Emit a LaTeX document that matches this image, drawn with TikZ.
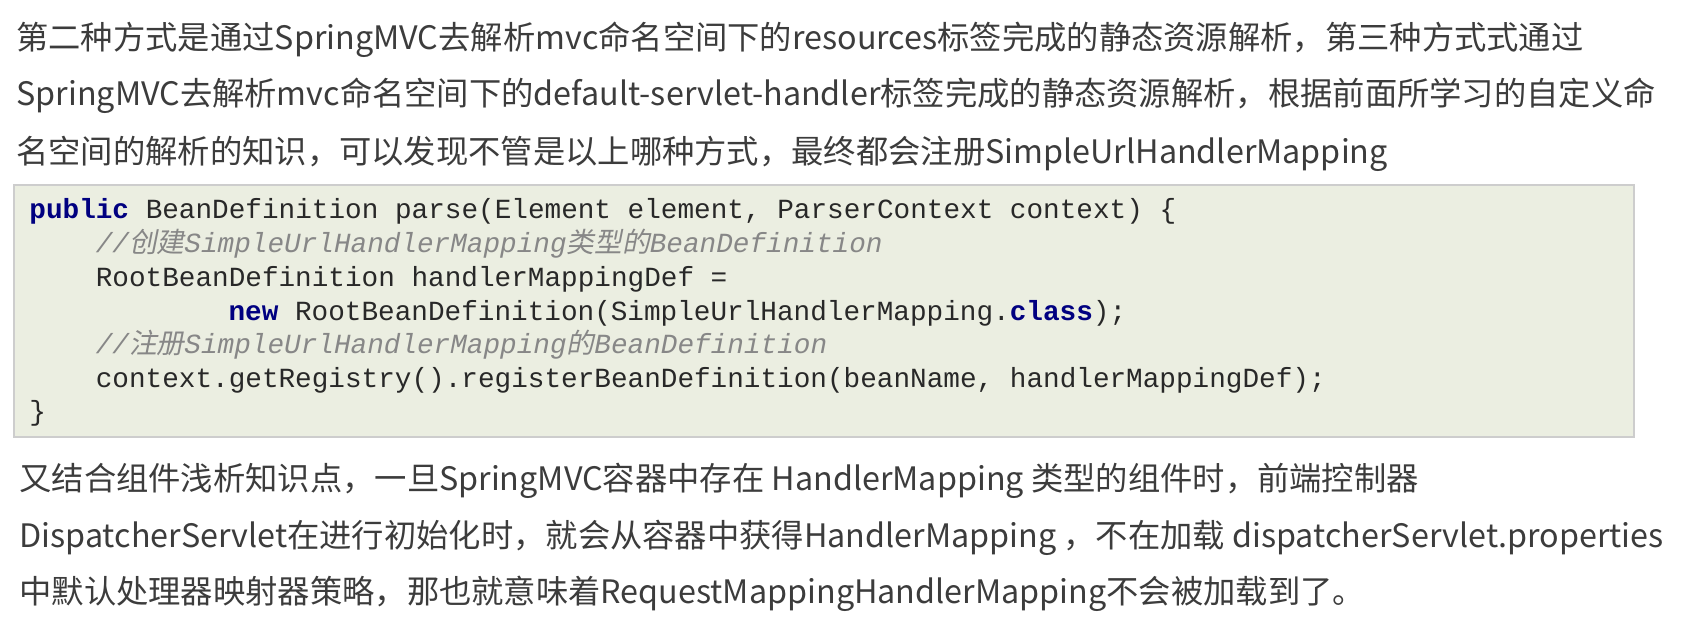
\documentclass[tikz,border=0pt]{standalone}
\usepackage{fontspec}
\setmainfont{Noto Sans CJK SC}
\setmonofont{Liberation Mono}
\newfontfamily\cjkslant[FakeSlant=0.2]{Noto Sans CJK SC}
\usetikzlibrary{positioning}

\definecolor{bodytext}{RGB}{60,60,60}
\definecolor{codebg}{RGB}{235,238,225}
\definecolor{codeframe}{RGB}{205,205,205}
\definecolor{keyword}{RGB}{0,0,128}
\definecolor{comment}{RGB}{135,135,135}
\definecolor{codetext}{RGB}{40,40,40}

\newcommand{\kw}[1]{\textcolor{keyword}{\bfseries #1}}
\newcommand{\cmt}[1]{\textcolor{comment}{\itshape #1}}
\newcommand{\zh}[1]{{\cjkslant #1}}

\tikzset{
  para/.style={anchor=base west, inner sep=0pt, text=bodytext,
    font=\fontsize{16.15}{16.15}\selectfont},
  codeline/.style={anchor=base west, inner sep=0pt, text=codetext,
    font=\ttfamily\fontsize{13.85}{13.85}\selectfont},
  codebox/.style={draw=codeframe, fill=codebg, line width=1pt,
    inner sep=0pt, minimum width=810pt, minimum height=126pt},
}

\begin{document}
\begin{tikzpicture}[x=0.5pt, y=-0.5pt]
    \useasboundingbox (0,0) rectangle (1682,631);

    % text above the listing
    \node[para] (t1) at (16,50) {第二种方式是通过SpringMVC去解析mvc命名空间下的resources标签完成的静态资源解析，第三种方式式通过};
    \node[para] (t2) at (16,106) {SpringMVC去解析mvc命名空间下的default-servlet-handler标签完成的静态资源解析，根据前面所学习的自定义命};
    \node[para] (t3) at (16,163) {名空间的解析的知识，可以发现不管是以上哪种方式，最终都会注册SimpleUrlHandlerMapping};

    % the listing
    \node[codebox] (box) at (824,311) {};
    \node[codeline] (c1) at (29,219) {\kw{public} BeanDefinition parse(Element element, ParserContext context) \{};
    \node[codeline] (c2) at (95.4,252.6) {\cmt{//\zh{创建}SimpleUrlHandlerMapping\zh{类型的}BeanDefinition}};
    \node[codeline] (c3) at (95.4,286) {RootBeanDefinition handlerMappingDef =};
    \node[codeline] (c4) at (228.2,320) {\kw{new} RootBeanDefinition(SimpleUrlHandlerMapping.\kw{class});};
    \node[codeline] (c5) at (95.4,353) {\cmt{//\zh{注册}SimpleUrlHandlerMapping\zh{的}BeanDefinition}};
    \node[codeline] (c6) at (95.4,387) {context.getRegistry().registerBeanDefinition(beanName, handlerMappingDef);};
    \node[codeline] (c7) at (29,420) {\}};

    % text below the listing
    \node[para] (t4) at (19,490) {又结合组件浅析知识点，一旦SpringMVC容器中存在 HandlerMapping 类型的组件时，前端控制器};
    \node[para] (t5) at (19,547) {DispatcherServlet在进行初始化时，就会从容器中获得HandlerMapping ，不在加载 dispatcherServlet.properties};
    \node[para] (t6) at (19,603) {中默认处理器映射器策略，那也就意味着RequestMappingHandlerMapping不会被加载到了。};
\end{tikzpicture}
\end{document}
